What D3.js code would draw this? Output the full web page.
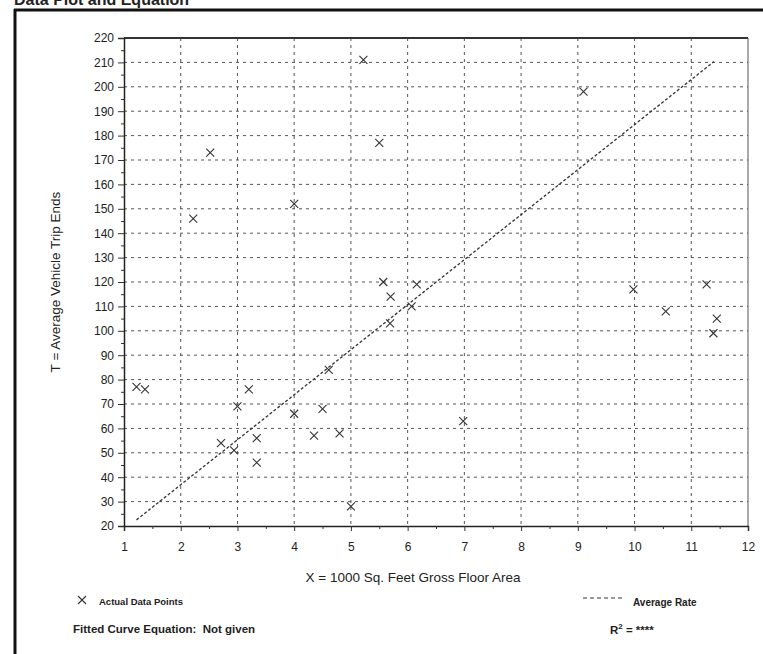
<!DOCTYPE html>
<html>
<head>
<meta charset="utf-8">
<script src="https://cdn.jsdelivr.net/npm/d3@7"></script>
<style>
  body { margin: 0; background: #fff; }
  text { font-family: "Liberation Sans", Arial, sans-serif; fill: #222; }
</style>
</head>
<body>
<svg id="chart" width="763" height="654"></svg>
<script>
// data
const sqFeet = [1.22, 1.37, 2.22, 2.52, 2.71, 2.94, 3.0, 3.2, 3.34, 3.34, 4.0, 4.0, 4.35, 4.5, 4.61, 4.8,
  5.0, 5.22, 5.5, 5.57, 5.69, 5.7, 6.07, 6.16, 6.98, 9.1, 9.98, 10.55, 11.27, 11.39, 11.45];
const tripEnds = [77, 76, 146, 173, 54, 51, 69, 76, 56, 46, 66, 152, 57, 68, 84, 58,
  28, 211, 177, 120, 103, 114, 110, 119, 63, 198, 117, 108, 119, 99, 105];
const averageRate = 18.45;
const rateLineX = [1.22, 11.4];
const xTicks = [1, 2, 3, 4, 5, 6, 7, 8, 9, 10, 11, 12];
const yTicks = [20, 30, 40, 50, 60, 70, 80, 90, 100, 110, 120, 130, 140, 150, 160, 170, 180, 190, 200, 210, 220];

const svg = d3.select("#chart");
const margins = [38, 15, 128, 124]; // top, right, bottom, left
const W = 763, H = 654;
const [mt, mr, mb, ml] = margins;

const x = d3.scaleLinear().domain([1, 12]).range([ml, 748]);
const y = d3.scaleLinear().domain([20, 220]).range([526, mt]);

// page frame + cut-off title
svg.append("line").attr("x1", 14).attr("x2", W).attr("y1", 10).attr("y2", 10)
  .attr("stroke", "#111").attr("stroke-width", 3);
svg.append("line").attr("x1", 15).attr("x2", 15).attr("y1", 9).attr("y2", H)
  .attr("stroke", "#111").attr("stroke-width", 3);
svg.append("text").attr("x", 14).attr("y", 5)
  .attr("font-size", "16px").attr("font-weight", "bold")
  .text("Data Plot and Equation");

// grid
const grid = svg.append("g").attr("stroke", "#555").attr("stroke-width", 1).attr("stroke-dasharray", "3,4");
grid.selectAll(".gx").data(xTicks.slice(1, -1)).join("line")
  .attr("x1", (d) => x(d)).attr("x2", (d) => x(d))
  .attr("y1", y(220)).attr("y2", y(20));
grid.selectAll(".gy").data(yTicks.slice(1, -1)).join("line")
  .attr("x1", x(1)).attr("x2", x(12))
  .attr("y1", (d) => y(d)).attr("y2", (d) => y(d));

// plot box
svg.append("line").attr("x1", x(1)).attr("x2", x(12)).attr("y1", y(220)).attr("y2", y(220))
  .attr("stroke", "#333").attr("stroke-width", 2);
svg.append("line").attr("x1", x(12)).attr("x2", x(12)).attr("y1", y(220)).attr("y2", y(20))
  .attr("stroke", "#555").attr("stroke-width", 1);

// axes
const xAxis = svg.append("g").attr("transform", `translate(0,${y(20)})`)
  .call(d3.axisBottom(x).tickValues(xTicks).tickSize(5).tickPadding(11).tickFormat(d3.format("d")));
xAxis.selectAll(".tick text").attr("font-size", "12px");
svg.append("g").attr("transform", `translate(0,${y(20)})`)
  .call(d3.axisBottom(x).tickValues(d3.range(1.5, 12, 1)).tickSize(3).tickFormat(""))
  .call((g) => g.select(".domain").remove());

const yAxis = svg.append("g").attr("transform", `translate(${x(1)},0)`)
  .call(d3.axisLeft(y).tickValues(yTicks).tickSize(6).tickPadding(4));
yAxis.selectAll(".tick text").attr("font-size", "12px");
svg.append("g").attr("transform", `translate(${x(1)},0)`)
  .call(d3.axisLeft(y).tickValues(d3.range(25, 220, 10)).tickSize(3).tickFormat(""))
  .call((g) => g.select(".domain").remove());

svg.selectAll(".domain").attr("stroke", "#222").attr("stroke-width", 1.5);
svg.selectAll(".tick line").attr("stroke", "#333");
svg.selectAll(".tick text").style("font-family", "'Liberation Sans', Arial, sans-serif").attr("fill", "#222");

// average rate line
svg.append("path")
  .datum(rateLineX)
  .attr("fill", "none")
  .attr("stroke", "#333")
  .attr("stroke-width", 1.3)
  .attr("stroke-dasharray", "3,2")
  .attr("d", d3.line().x((d) => x(d)).y((d) => y(d * averageRate)));

// data points as x marks
const pts = sqFeet.map((v, i) => ({ x: v, y: tripEnds[i] }));
const r = 4;
svg.append("g").selectAll("path").data(pts).join("path")
  .attr("fill", "none")
  .attr("stroke", "#333")
  .attr("stroke-width", 1.1)
  .attr("d", (d) => {
    const cx = x(d.x), cy = y(d.y);
    return `M${cx - r},${cy - r}L${cx + r},${cy + r}M${cx - r},${cy + r}L${cx + r},${cy - r}`;
  });

// axis titles
svg.append("text")
  .attr("transform", "rotate(-90)")
  .attr("x", -282).attr("y", 60)
  .attr("text-anchor", "middle")
  .attr("font-size", "13.5px")
  .text("T = Average Vehicle Trip Ends");

svg.append("text")
  .attr("x", 413).attr("y", 582)
  .attr("text-anchor", "middle")
  .attr("font-size", "13.5px")
  .text("X = 1000 Sq. Feet Gross Floor Area");

// legend
svg.append("path")
  .attr("fill", "none").attr("stroke", "#333").attr("stroke-width", 1.1)
  .attr("d", `M${82 - r},${600 - r}L${82 + r},${600 + r}M${82 - r},${600 + r}L${82 + r},${600 - r}`);
svg.append("text").attr("x", 99).attr("y", 605)
  .attr("font-size", "9.5px").attr("font-weight", "bold")
  .text("Actual Data Points");

svg.append("line").attr("x1", 583).attr("x2", 625).attr("y1", 598).attr("y2", 598)
  .attr("stroke", "#333").attr("stroke-width", 1).attr("stroke-dasharray", "4,3");
svg.append("text").attr("x", 633).attr("y", 606)
  .attr("font-size", "10px").attr("font-weight", "bold")
  .text("Average Rate");

svg.append("text").attr("x", 73).attr("y", 633)
  .attr("font-size", "11.5px").attr("font-weight", "bold")
  .style("white-space", "pre")
  .text("Fitted Curve Equation:  Not given");

const r2 = svg.append("text").attr("x", 610).attr("y", 634)
  .attr("font-size", "11.5px").attr("font-weight", "bold");
r2.append("tspan").text("R");
r2.append("tspan").attr("dy", -5).attr("font-size", "8px").text("2");
r2.append("tspan").attr("dy", 5).text(" = ****");
</script>
</body>
</html>
